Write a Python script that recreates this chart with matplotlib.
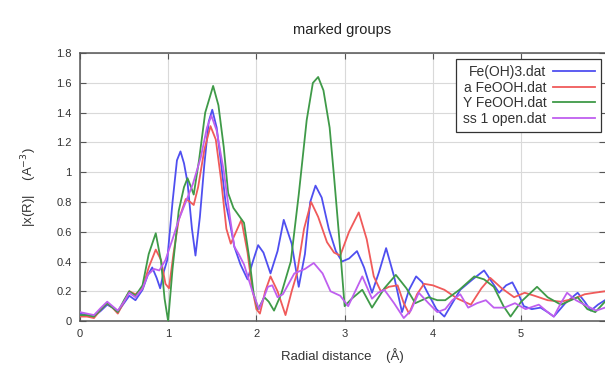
"""
marked groups -- |chi(R)| Fourier transforms of four reference spectra,
redrawn from a gnuplot-style screenshot.
"""
import matplotlib
matplotlib.use("Agg")
import matplotlib.pyplot as plt

plt.rcParams.update({
    "font.family": ["Liberation Sans", "DejaVu Sans"],
    "font.size": 8,
    "axes.linewidth": 1.1,
})

# ---- Data ---------------------------------------------------------------
LABELS = ["Fe(OH)3.dat", "a FeOOH.dat", "Y FeOOH.dat", "ss 1 open.dat"]
COLORS = ["#4f4ff0", "#f05a5a", "#3f9a48", "#bf5fef"]

r_blue = [0, 0.08, 0.16, 0.24, 0.31, 0.37, 0.43, 0.50, 0.56, 0.63, 0.71, 0.77,
          0.82, 0.87, 0.91, 0.95, 0.99, 1.05, 1.10, 1.14, 1.18, 1.22, 1.27,
          1.31, 1.36, 1.41, 1.46, 1.50, 1.55, 1.60, 1.65, 1.70, 1.75, 1.82,
          1.90, 1.96, 2.02, 2.08, 2.16, 2.24, 2.31, 2.40, 2.48, 2.55, 2.61,
          2.67, 2.74, 2.82, 2.90, 2.97, 3.05, 3.14, 3.22, 3.31, 3.39, 3.47,
          3.56, 3.65, 3.73, 3.81, 3.88, 3.94, 4.04, 4.13, 4.22, 4.31, 4.45,
          4.58, 4.66, 4.75, 4.83, 4.90, 4.97, 5.03, 5.12, 5.22, 5.30, 5.37,
          5.50, 5.64, 5.72, 5.79, 5.87, 5.95]
y_blue = [0.05, 0.04, 0.03, 0.07, 0.11, 0.09, 0.06, 0.12, 0.17, 0.14, 0.21, 0.31,
          0.36, 0.29, 0.22, 0.33, 0.41, 0.80, 1.08, 1.14, 1.06, 0.93, 0.62,
          0.44, 0.70, 1.05, 1.34, 1.42, 1.30, 1.06, 0.80, 0.66, 0.50, 0.38,
          0.28, 0.40, 0.51, 0.46, 0.32, 0.47, 0.68, 0.52, 0.23, 0.45, 0.80,
          0.91, 0.83, 0.62, 0.47, 0.40, 0.42, 0.47, 0.36, 0.19, 0.33, 0.49,
          0.30, 0.06, 0.21, 0.30, 0.26, 0.19, 0.08, 0.03, 0.12, 0.21, 0.28,
          0.34, 0.27, 0.19, 0.24, 0.26, 0.18, 0.10, 0.08, 0.09, 0.06, 0.03,
          0.12, 0.19, 0.13, 0.07, 0.11, 0.14]

r_red = [0, 0.08, 0.16, 0.24, 0.31, 0.37, 0.43, 0.50, 0.56, 0.63, 0.71, 0.78,
         0.86, 0.92, 0.97, 1.01, 1.06, 1.12, 1.20, 1.25, 1.29, 1.34, 1.41,
         1.48, 1.54, 1.60, 1.66, 1.71, 1.77, 1.83, 1.90, 1.95, 2.00, 2.04,
         2.10, 2.16, 2.24, 2.33, 2.40, 2.46, 2.54, 2.62, 2.70, 2.80, 2.88,
         2.95, 3.05, 3.16, 3.25, 3.33, 3.41, 3.50, 3.60, 3.67, 3.73, 3.82,
         3.90, 4.00, 4.13, 4.28, 4.43, 4.55, 4.65, 4.78, 4.92, 5.04, 5.15,
         5.30, 5.45, 5.60, 5.72, 5.83, 5.95]
y_red = [0.03, 0.03, 0.02, 0.08, 0.12, 0.09, 0.05, 0.13, 0.20, 0.18, 0.22, 0.36,
         0.48, 0.41, 0.25, 0.22, 0.45, 0.68, 0.82, 0.80, 0.78, 0.90, 1.15,
         1.31, 1.22, 0.95, 0.62, 0.52, 0.60, 0.68, 0.46, 0.23, 0.08, 0.05,
         0.20, 0.30, 0.20, 0.04, 0.20, 0.32, 0.62, 0.80, 0.70, 0.53, 0.46,
         0.44, 0.60, 0.73, 0.55, 0.30, 0.20, 0.23, 0.24, 0.12, 0.05, 0.18,
         0.25, 0.24, 0.21, 0.15, 0.11, 0.22, 0.29, 0.22, 0.16, 0.19, 0.17,
         0.14, 0.13, 0.15, 0.18, 0.19, 0.20]

r_green = [0, 0.08, 0.16, 0.24, 0.31, 0.37, 0.43, 0.50, 0.56, 0.63, 0.71, 0.78,
           0.86, 0.92, 0.96, 1.00, 1.05, 1.12, 1.18, 1.22, 1.26, 1.29, 1.35,
           1.42, 1.51, 1.57, 1.63, 1.68, 1.74, 1.80, 1.86, 1.92, 1.97, 2.02,
           2.09, 2.14, 2.20, 2.28, 2.39, 2.48, 2.57, 2.64, 2.70, 2.76, 2.83,
           2.88, 2.94, 3.00, 3.08, 3.20, 3.31, 3.45, 3.58, 3.70, 3.80, 3.95,
           4.05, 4.14, 4.30, 4.47, 4.58, 4.69, 4.80, 4.88, 5.00, 5.18, 5.30,
           5.45, 5.64, 5.75, 5.84, 5.95]
y_green = [0.04, 0.04, 0.03, 0.08, 0.12, 0.09, 0.06, 0.14, 0.20, 0.17, 0.24, 0.45,
           0.59, 0.40, 0.15, 0.00, 0.35, 0.74, 0.90, 0.96, 0.90, 0.85, 1.08,
           1.40, 1.58, 1.45, 1.17, 0.86, 0.76, 0.71, 0.66, 0.42, 0.18, 0.08,
           0.16, 0.13, 0.07, 0.18, 0.40, 0.85, 1.35, 1.60, 1.64, 1.55, 1.30,
           0.97, 0.55, 0.10, 0.15, 0.21, 0.09, 0.22, 0.31, 0.22, 0.12, 0.16,
           0.14, 0.14, 0.21, 0.30, 0.28, 0.23, 0.10, 0.03, 0.13, 0.23, 0.16,
           0.11, 0.16, 0.08, 0.06, 0.13]

r_purple = [0, 0.08, 0.16, 0.24, 0.31, 0.37, 0.43, 0.50, 0.56, 0.63, 0.71, 0.77,
            0.84, 0.90, 0.97, 1.05, 1.12, 1.20, 1.28, 1.37, 1.44, 1.49, 1.55,
            1.63, 1.70, 1.75, 1.80, 1.86, 1.96, 2.03, 2.08, 2.13, 2.18, 2.24,
            2.30, 2.43, 2.55, 2.65, 2.75, 2.84, 2.95, 3.04, 3.12, 3.20, 3.31,
            3.38, 3.45, 3.56, 3.67, 3.75, 3.84, 3.95, 4.05, 4.14, 4.22, 4.31,
            4.40, 4.50, 4.60, 4.69, 4.81, 4.93, 5.05, 5.20, 5.30, 5.37, 5.45,
            5.52, 5.62, 5.75, 5.85, 5.95]
y_purple = [0.06, 0.05, 0.04, 0.09, 0.13, 0.10, 0.07, 0.13, 0.19, 0.16, 0.22, 0.31,
            0.35, 0.34, 0.41, 0.55, 0.68, 0.80, 0.92, 1.10, 1.30, 1.38, 1.28,
            1.01, 0.70, 0.50, 0.45, 0.38, 0.19, 0.08, 0.15, 0.23, 0.24, 0.16,
            0.18, 0.32, 0.35, 0.39, 0.32, 0.20, 0.17, 0.10, 0.20, 0.30, 0.15,
            0.19, 0.21, 0.12, 0.02, 0.07, 0.19, 0.12, 0.06, 0.08, 0.14, 0.18,
            0.09, 0.12, 0.14, 0.09, 0.09, 0.12, 0.08, 0.11, 0.06, 0.03, 0.12,
            0.19, 0.14, 0.10, 0.07, 0.09]

SERIES = [(r_blue, y_blue), (r_red, y_red), (r_green, y_green), (r_purple, y_purple)]

# ---- Figure -------------------------------------------------------------
fig = plt.figure(figsize=(6.05, 3.72), dpi=100)
ax = fig.add_axes([0.132, 0.137, 0.868, 0.72])

for (xs, ys), lab, col in zip(SERIES, LABELS, COLORS):
    ax.plot(xs, ys, color=col, linewidth=1.3, label=lab, zorder=3,
            solid_joinstyle="round")

ax.set_xlim(0, 5.95)
ax.set_ylim(0, 1.8)
ax.set_xticks([0, 1, 2, 3, 4, 5])
ax.set_yticks([0, 0.2, 0.4, 0.6, 0.8, 1, 1.2, 1.4, 1.6, 1.8])
ax.set_yticklabels(["0", "0.2", "0.4", "0.6", "0.8", "1", "1.2", "1.4", "1.6", "1.8"])
ax.tick_params(direction="in", length=4, width=0.8, top=True, right=True,
               colors="#555555", labelcolor="#333333", labelsize=8, pad=6)
ax.grid(True, color="#d9d9d9", linewidth=0.8, zorder=0)
for side in ("left", "bottom", "top"):
    ax.spines[side].set_color("#555555")
ax.spines["right"].set_visible(False)

ax.set_title("marked groups", fontsize=10.5, color="#222222", pad=14)
ax.set_xlabel("Radial distance    (Å)", fontsize=9.5, color="#333333", labelpad=6)
ax.set_ylabel(r"|x(R)|    (A$^{-3}$)", fontsize=9.5, color="#333333", labelpad=12)

leg = ax.legend(loc="upper right", bbox_to_anchor=(0.998, 0.99), markerfirst=False,
                fontsize=10, handlelength=3.0, handletextpad=0.5,
                labelspacing=0.12, borderpad=0.45, borderaxespad=0.2,
                fancybox=False, framealpha=1, edgecolor="#333333")
leg.get_frame().set_linewidth(0.9)
for t in leg.get_texts():
    t.set_color("#333333")

fig.savefig("out.png", dpi=100)
